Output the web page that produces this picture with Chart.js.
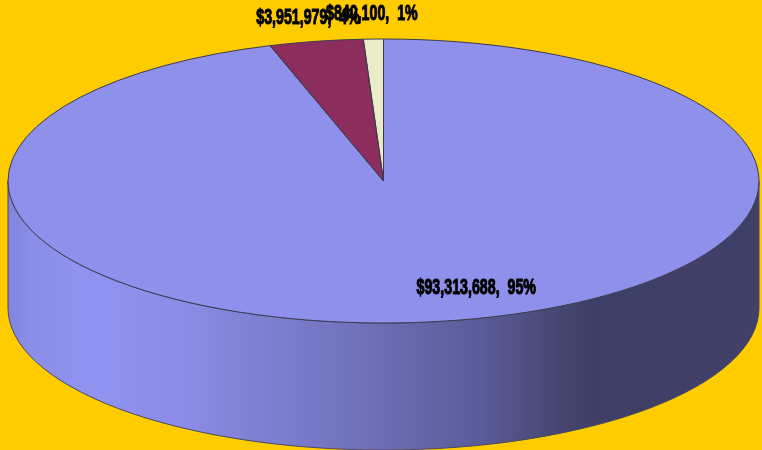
<!DOCTYPE html>
<html>
<head>
<meta charset="utf-8">
<style>
  html, body { margin: 0; padding: 0; background: #ffcc00; overflow: hidden; }
  canvas { display: block; }
</style>
<script src="https://cdn.jsdelivr.net/npm/chart.js@4"></script>
</head>
<body>
<canvas id="pieChart" width="762" height="450"></canvas>
<script>
const sliceValues = [93313688, 3951979, 840100];
const sliceColors = ["#8e90ec", "#8c2d5e", "#ecebc8"];

// flattened disc: centre, radii and how far the wall drops below the top
const disc = { x: 383.5, y: 181, rx: 375.5, ry: 142, depth: 127 };

// label centres, as a fraction of the disc radii away from its centre
const labelAnchors = [
  { fx: 0.247, fy: 0.754 },
  { fx: -0.201, fy: -1.148 },
  { fx: -0.031, fy: -1.176 },
];

const wallStops = [
  [0, "#8084dc"],
  [0.03, "#8b8ee8"],
  [0.12, "#9093f0"],
  [0.24, "#8a8be6"],
  [0.29, "#8385da"],
  [0.46, "#7072bc"],
  [0.63, "#5a5b98"],
  [0.74, "#45456f"],
  [0.78, "#3f3e66"],
  [1, "#404068"],
];

function formatLabel(value, total) {
  const percent = Math.round((value / total) * 100);
  return `$${value.toLocaleString("en-US")},  ${percent}%`;
}

// moves the circular pie onto the flattened disc
function applyDiscTransform(ctx, arc) {
  ctx.translate(disc.x, disc.y);
  ctx.scale(disc.rx / arc.outerRadius, disc.ry / arc.outerRadius);
  ctx.translate(-arc.x, -arc.y);
}

const discPlugin = {
  id: "disc",
  beforeDatasetsDraw(chart) {
    const ctx = chart.ctx;
    const arc = chart.getDatasetMeta(0).data[0];

    // wall of the cylinder, under the slices
    const gradient = ctx.createLinearGradient(disc.x - disc.rx, 0, disc.x + disc.rx, 0);
    wallStops.forEach(([stop, color]) => gradient.addColorStop(stop, color));
    ctx.save();
    ctx.beginPath();
    ctx.ellipse(disc.x, disc.y, disc.rx, disc.ry, 0, Math.PI, 0, true);
    ctx.ellipse(disc.x, disc.y + disc.depth, disc.rx, disc.ry, 0, 0, Math.PI, false);
    ctx.closePath();
    ctx.fillStyle = gradient;
    ctx.fill();
    ctx.strokeStyle = "#4a4a5c";
    ctx.lineWidth = 1;
    ctx.stroke();
    ctx.restore();

    ctx.save();
    applyDiscTransform(ctx, arc);
  },
  afterDatasetsDraw(chart) {
    const ctx = chart.ctx;
    ctx.restore();

    // slice outlines, stroked after the transform so the line stays even
    chart.getDatasetMeta(0).data.forEach((arc) => {
      const props = arc.getProps(["x", "y", "startAngle", "endAngle", "outerRadius"], true);
      ctx.save();
      applyDiscTransform(ctx, props);
      ctx.beginPath();
      ctx.moveTo(props.x, props.y);
      ctx.arc(props.x, props.y, props.outerRadius, props.startAngle, props.endAngle);
      ctx.closePath();
      ctx.restore();
      ctx.strokeStyle = "#3a3a50";
      ctx.lineWidth = 1;
      ctx.stroke();
    });

    // value labels, squeezed sideways into a tall condensed look
    const total = sliceValues.reduce((acc, curr) => acc + curr, 0);
    sliceValues.forEach((value, i) => {
      const x = disc.x + labelAnchors[i].fx * disc.rx;
      const y = disc.y + labelAnchors[i].fy * disc.ry;
      ctx.save();
      ctx.translate(x, y);
      ctx.scale(0.79, 1.2);
      ctx.font = 'bold 18px "Liberation Sans", sans-serif';
      ctx.fillStyle = "#000";
      ctx.strokeStyle = "#000";
      ctx.lineWidth = 0.9;
      ctx.textAlign = "center";
      ctx.textBaseline = "middle";
      ctx.fillText(formatLabel(value, total), 0, 0);
      ctx.strokeText(formatLabel(value, total), 0, 0);
      ctx.restore();
    });
  },
};

new Chart(document.getElementById("pieChart").getContext("2d"), {
  type: "pie",
  data: {
    labels: sliceValues.map((value) => `$${value.toLocaleString("en-US")}`),
    datasets: [
      {
        data: sliceValues,
        backgroundColor: sliceColors,
        borderWidth: 0,
        clip: false,
      },
    ],
  },
  options: {
    responsive: false,
    animation: false,
    plugins: {
      legend: { display: false },
      tooltip: { enabled: false },
    },
  },
  plugins: [discPlugin],
});
</script>
</body>
</html>
